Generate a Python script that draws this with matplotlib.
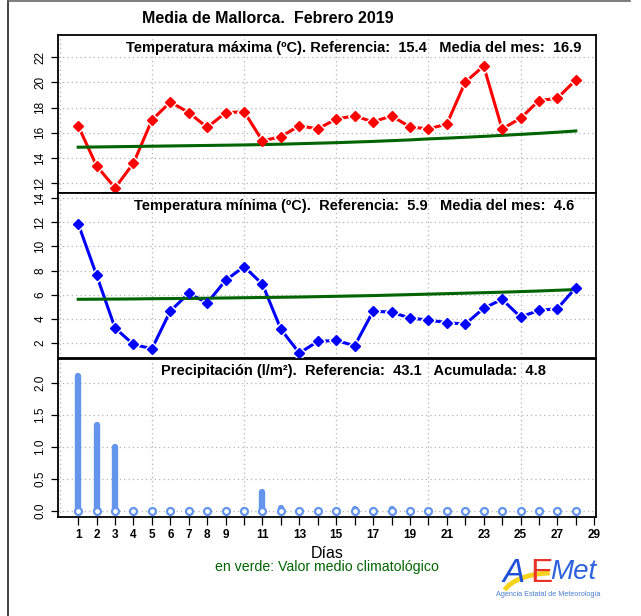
import matplotlib
matplotlib.use("Agg")
import matplotlib.pyplot as plt
from matplotlib.lines import Line2D
from matplotlib.patches import Arc

plt.rcParams['font.family'] = ['Liberation Sans', 'DejaVu Sans']

# ---------------- data ----------------
days = list(range(1, 29))
tmax = [16.55, 13.37, 11.63, 13.6, 17.02, 18.45, 17.61, 16.43, 17.6, 17.68,
        15.36, 15.7, 16.57, 16.31, 17.1, 17.35, 16.87, 17.35, 16.47, 16.31,
        16.7, 20.02, 21.31, 16.31, 17.16, 18.56, 18.75, 20.2]
tmax_clim = [14.86, 14.88, 14.90, 14.92, 14.94, 14.96, 14.98, 15.00, 15.02, 15.04,
             15.07, 15.10, 15.14, 15.18, 15.22, 15.27, 15.32, 15.38, 15.44, 15.52,
             15.58, 15.65, 15.72, 15.80, 15.88, 15.96, 16.05, 16.15]
tmin = [11.89, 7.6, 3.22, 1.86, 1.5, 4.64, 6.11, 5.3, 7.19, 8.33,
        6.86, 3.11, 1.14, 2.11, 2.19, 1.75, 4.61, 4.55, 4.05, 3.89,
        3.67, 3.55, 4.86, 5.61, 4.14, 4.69, 4.83, 6.58]
tmin_clim = [5.61, 5.62, 5.63, 5.64, 5.66, 5.67, 5.68, 5.70, 5.72, 5.74,
             5.76, 5.78, 5.80, 5.83, 5.86, 5.89, 5.92, 5.96, 6.00, 6.04,
             6.08, 6.12, 6.16, 6.20, 6.25, 6.30, 6.36, 6.42]
precip = [2.1, 1.35, 1.0, 0.0, 0.0, 0.0, 0.01, 0.0, 0.0, 0.02,
          0.3, 0.05, 0.0, 0.0, 0.0, 0.04, 0.0, 0.04, 0.0, 0.0,
          0.0, 0.0, 0.0, 0.0, 0.0, 0.0, 0.0, 0.0]

xticks = list(range(1, 30))
xtick_labels = ['1', '2', '3', '4', '5', '6', '7', '8', '9', '', '11', '', '13', '',
                '15', '', '17', '', '19', '', '21', '', '23', '', '25', '', '27', '', '29']
tmax_yticks = [12, 14, 16, 18, 20, 22]
tmin_yticks = [2, 4, 6, 8, 10, 12, 14]
prec_yticks = [0.0, 0.5, 1.0, 1.5, 2.0]
prec_yticklabels = ['0.0', '0.5', '1.0', '1.5', '2.0']

main_title = "Media de Mallorca.  Febrero 2019"
title_tmax = "Temperatura máxima (ºC). Referencia:  15.4   Media del mes:  16.9"
title_tmin = "Temperatura mínima (ºC).  Referencia:  5.9   Media del mes:  4.6"
title_prec = "Precipitación (l/m²).  Referencia:  43.1   Acumulada:  4.8"

# ---------------- figure ----------------
W, H = 641, 616
fig = plt.figure(figsize=(W / 100, H / 100), dpi=100)
fig.patch.set_facecolor('white')

left = 58.3 / W
width = (595.7 - 58.3) / W


def fy(px):
    return 1 - px / H


ax1 = fig.add_axes([left, fy(193.3), width, (193.3 - 35) / H])
ax2 = fig.add_axes([left, fy(358.5), width, (358.5 - 193.3) / H])
ax3 = fig.add_axes([left, fy(517), width, (517 - 358.5) / H])

grid_col = '#b4b4b4'
green = '#006400'


def style(ax, yticks, ylim, yticklabels=None):
    ax.set_xlim(-0.08, 29.08)
    ax.set_ylim(*ylim)
    for x in [0, 5, 10, 15, 20, 25]:
        ax.axvline(x, color=grid_col, lw=0.9, dashes=(1, 2.5), zorder=0)
    for y in yticks:
        ax.axhline(y, color=grid_col, lw=0.9, dashes=(1, 2.5), zorder=0)
    ax.set_yticks(yticks)
    if yticklabels is None:
        yticklabels = [str(v) for v in yticks]
    ax.set_yticklabels(yticklabels, rotation=90, va='center', fontsize=8.5)
    ax.tick_params(axis='y', length=5, width=0.9, pad=3.5)
    for s in ax.spines.values():
        s.set_linewidth(1.3)
        s.set_color('black')


def line_with_gaps(ax, x, y, color):
    ax.plot(x, y, color=color, lw=2.2, zorder=2, solid_capstyle='butt')
    ax.plot(x, y, ls='none', marker='D', ms=7.5, color='white', zorder=3)
    ax.plot(x, y, ls='none', marker='D', ms=4.6, color=color, zorder=5)


# top panel
style(ax1, tmax_yticks, (11.2, 23.77))
line_with_gaps(ax1, days, tmax, 'red')
ax1.plot(days, tmax_clim, color=green, lw=2.2, zorder=4)
ax1.set_xticks([])
ax1.text(0.55, 0.915, title_tmax, transform=ax1.transAxes, ha='center', va='center',
         fontsize=10.5, fontweight='bold')

# middle panel
style(ax2, tmin_yticks, (0.69, 14.42))
line_with_gaps(ax2, days, tmin, 'blue')
ax2.plot(days, tmin_clim, color=green, lw=2.2, zorder=4)
ax2.set_xticks([])
ax2.text(0.55, 0.925, title_tmin, transform=ax2.transAxes, ha='center', va='center',
         fontsize=10.5, fontweight='bold')

# bottom panel
style(ax3, prec_yticks, (-0.09, 2.38), prec_yticklabels)
ax3.vlines(days, 0, precip, color='#6495ED', lw=4.6, capstyle='round', zorder=2)
ax3.plot(days, [0] * len(days), ls='none', marker='o', ms=5, mfc='white',
         mec='#6495ED', mew=1.6, zorder=3)
ax3.set_xticks(xticks)
ax3.set_xticklabels(xtick_labels, fontsize=8.5, fontweight='bold')
ax3.tick_params(axis='x', length=6, width=0.9, pad=3)
ax3.text(0.55, 0.92, title_prec, transform=ax3.transAxes, ha='center', va='center',
         fontsize=10.5, fontweight='bold')

# titles and notes
fig.text(268 / W, fy(18.5), main_title, ha='center', va='center', fontsize=11.5,
         fontweight='bold')
fig.text(327 / W, fy(554), 'Días', ha='center', va='center', fontsize=11.5)
fig.text(327 / W, fy(567), 'en verde: Valor medio climatológico', ha='center',
         va='center', fontsize=10.2, color=green)

# AEMet logo (approximate, as text)
fig.text(503 / W, fy(574), 'A', ha='left', va='center', fontsize=24, color='#1f4fd8',
         style='italic')
fig.text(530 / W, fy(574), 'E', ha='left', va='center', fontsize=24, color='#e8322a')
fig.text(550 / W, fy(572), 'Met', ha='left', va='center', fontsize=20, color='#2f62dd',
         style='italic')
fig.add_artist(Arc((552 / W, fy(598)), 100 / W, 50 / H, theta1=95, theta2=170,
                   transform=fig.transFigure, color='#f5d21e', lw=3.5))
fig.text(548 / W, fy(595), 'Agencia Estatal de Meteorología', ha='center', va='center',
         fontsize=5.2, color='#4a7fd0')

# outer frame lines
fig.add_artist(Line2D([8 / W, 8 / W], [0, 1], transform=fig.transFigure,
                      color='#222222', lw=1.2))
fig.add_artist(Line2D([8 / W, 630 / W], [fy(1), fy(1)], transform=fig.transFigure,
                      color='#666666', lw=1.2))

fig.savefig('out.png', dpi=100, facecolor='white')
